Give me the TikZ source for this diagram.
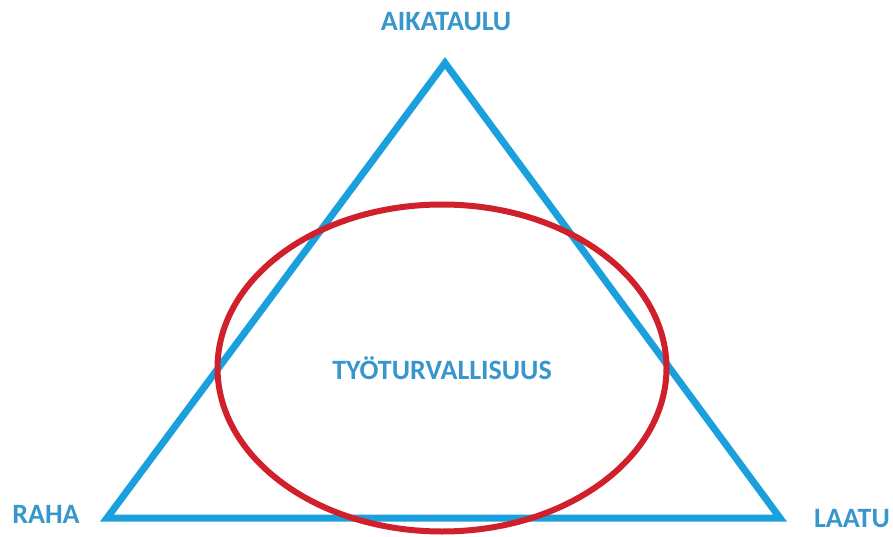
\documentclass[tikz,border=0pt]{standalone}
\usepackage{fontspec}
\setmainfont{Carlito}
\usetikzlibrary{shapes.geometric}
\definecolor{side}{HTML}{1BA0DE}
\definecolor{ring}{HTML}{D0202B}
\definecolor{ink}{HTML}{3796CB}
\tikzset{
  every node/.style={font=\bfseries\fontsize{28}{33}\selectfont,text=ink},
  corner/.style={inner sep=0pt},
  sideline/.style={draw=side,line width=7pt,line join=miter},
  ringbox/.style={ellipse,draw=ring,line width=6pt,minimum width=449pt,minimum height=327pt,inner sep=0pt},
}

\begin{document}
\begin{tikzpicture}[x=1pt,y=-1pt]
\useasboundingbox (0,0) rectangle (893,537);

% triangle
\coordinate (top) at (445,63);
\coordinate (left) at (107,518);
\coordinate (right) at (780,518);
\draw[sideline] (top) -- (left) -- (right) -- cycle;

% ring
\node[ringbox] (safe) at (442,368) {TYÖTURVALLISUUS};

% labels
\node[corner] (time) at (446,22) {AIKATAULU};
\node[corner] (money) at (46,514) {RAHA};
\node[corner] (quality) at (852,519) {LAATU};

\end{tikzpicture}
\end{document}
